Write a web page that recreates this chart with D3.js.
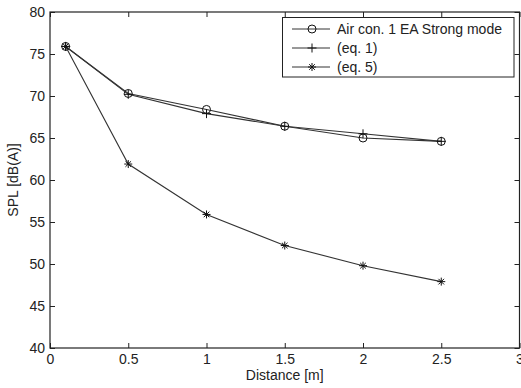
<!DOCTYPE html>
<html>
<head>
<meta charset="utf-8">
<script src="https://cdn.jsdelivr.net/npm/d3@7"></script>
<style>
  body { margin: 0; background: #fff; }
  svg { display: block; font-family: "Liberation Sans", Arial, sans-serif; }
  .tick text { fill: #222; font-size: 14px; }
  .axis-label { fill: #222; font-size: 14px; }
</style>
</head>
<body>
<div id="chart"></div>
<script>
const width = 521, height = 388;
const margin = {top: 12, right: 1.5, bottom: 40, left: 50};
const innerWidth = width - margin.left - margin.right;
const innerHeight = height - margin.top - margin.bottom;

// distances [m]
const distance = [0.1, 0.5, 1, 1.5, 2, 2.5];
// SPL values [dB(A)]
const airCon = [75.9, 70.3, 68.4, 66.4, 65.0, 64.6];
const eq1 = [75.9, 70.2, 67.9, 66.4, 65.5, 64.6];
const eq5 = [75.9, 61.9, 55.9, 52.2, 49.8, 47.9];

const xTicks = [0, 0.5, 1, 1.5, 2, 2.5, 3];
const yTicks = [40, 45, 50, 55, 60, 65, 70, 75, 80];

const series = [
  {name: 'Air con. 1 EA Strong mode', values: airCon, marker: 'circle'},
  {name: '(eq. 1)', values: eq1, marker: 'plus'},
  {name: '(eq. 5)', values: eq5, marker: 'star'}
];

const svg = d3.select('#chart')
  .append('svg')
  .attr('width', width)
  .attr('height', height);

const innerChart = svg.append('g')
  .attr('transform', `translate(${margin.left},${margin.top})`);

const xScale = d3.scaleLinear().domain([0, 3]).range([0, innerWidth]);
const yScale = d3.scaleLinear().domain([40, 80]).range([innerHeight, 0]);

// axes, ticks pointing inward, mirrored on top and right
const fmt = d => d3.format('')(d);
innerChart.append('g')
  .attr('transform', `translate(0,${innerHeight})`)
  .call(d3.axisBottom(xScale).tickValues(xTicks).tickFormat(fmt).tickSizeInner(-5).tickSizeOuter(0).tickPadding(6));
innerChart.append('g')
  .attr('class', 'mirror')
  .call(d3.axisTop(xScale).tickValues(xTicks).tickSizeInner(-5).tickSizeOuter(0));
innerChart.append('g')
  .call(d3.axisLeft(yScale).tickValues(yTicks).tickFormat(fmt).tickSizeInner(-5).tickSizeOuter(0).tickPadding(5));
innerChart.append('g')
  .attr('class', 'mirror')
  .attr('transform', `translate(${innerWidth},0)`)
  .call(d3.axisRight(yScale).tickValues(yTicks).tickSizeInner(-5).tickSizeOuter(0));

innerChart.selectAll('.mirror .tick text').remove();
innerChart.selectAll('.domain').remove();
innerChart.selectAll('.tick line').attr('stroke', '#222');

innerChart.append('rect')
  .attr('width', innerWidth)
  .attr('height', innerHeight)
  .attr('fill', 'none')
  .attr('stroke', '#222')
  .attr('stroke-width', 1.2);

const drawMarker = (g, type) => {
  if (type === 'circle') {
    g.append('circle').attr('r', 4).attr('fill', 'none').attr('stroke', '#111');
  } else if (type === 'plus') {
    g.append('path').attr('d', 'M-4.5,0H4.5M0,-4.5V4.5').attr('stroke', '#111');
  } else {
    g.append('path').attr('d', 'M-4,0H4M0,-4V4M-2.8,-2.8L2.8,2.8M-2.8,2.8L2.8,-2.8').attr('stroke', '#111');
  }
};

const line = d3.line()
  .x((d, i) => xScale(distance[i]))
  .y(d => yScale(d));

series.forEach(s => {
  innerChart.append('path')
    .attr('d', line(s.values))
    .attr('fill', 'none')
    .attr('stroke', '#333')
    .attr('stroke-width', 1.1);
  s.values.forEach((v, i) => {
    const g = innerChart.append('g')
      .attr('transform', `translate(${xScale(distance[i])},${yScale(v)})`);
    drawMarker(g, s.marker);
  });
});

// legend
const legendG = svg.append('g').attr('transform', 'translate(282,17)');
legendG.append('rect')
  .attr('x', 0.5).attr('y', 0.5)
  .attr('width', 231.5).attr('height', 59.5)
  .attr('fill', '#fff')
  .attr('stroke', '#222');
series.forEach((s, i) => {
  const y = 12 + i * 19;
  legendG.append('line')
    .attr('x1', 10).attr('x2', 48)
    .attr('y1', y).attr('y2', y)
    .attr('stroke', '#333');
  drawMarker(legendG.append('g').attr('transform', `translate(30,${y})`), s.marker);
  legendG.append('text')
    .attr('x', 55).attr('y', y)
    .attr('dy', '0.35em')
    .attr('class', 'axis-label')
    .attr('font-size', '15px')
    .text(s.name);
});

svg.append('text')
  .attr('class', 'axis-label')
  .attr('text-anchor', 'middle')
  .attr('x', margin.left + innerWidth / 2)
  .attr('y', 380)
  .text('Distance [m]');

svg.append('text')
  .attr('class', 'axis-label')
  .attr('text-anchor', 'middle')
  .attr('transform', 'rotate(-90)')
  .attr('x', -(margin.top + innerHeight / 2))
  .attr('y', 18)
  .text('SPL [dB(A)]');
</script>
</body>
</html>
